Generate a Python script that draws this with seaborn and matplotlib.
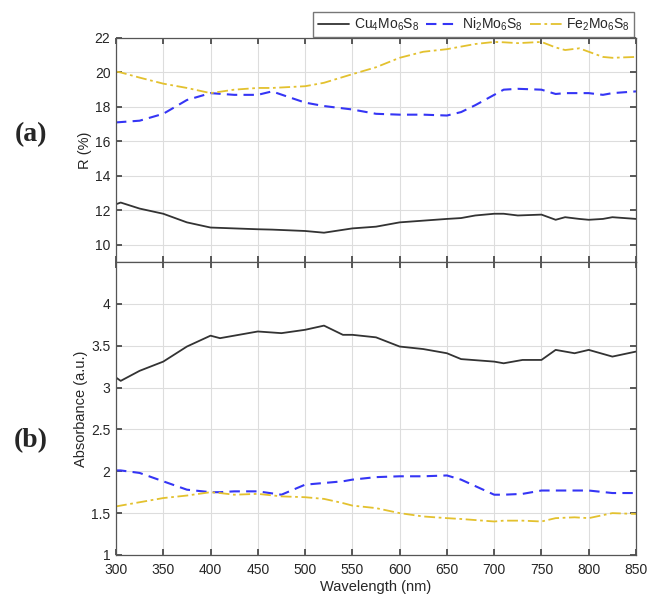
import numpy as np
import pandas as pd
import matplotlib
matplotlib.use("Agg")
import matplotlib.pyplot as plt
import seaborn as sns
from matplotlib.ticker import FuncFormatter

sns.set_theme(style="white")
plt.rcParams["font.family"] = ["Liberation Sans", "DejaVu Sans"]
plt.rcParams["mathtext.default"] = "regular"

# ── Data ──────────────────────────────────────────────────────────────────────
wl_r = [300, 305, 325, 350, 375, 400, 425, 450, 465, 500, 520, 550, 575, 600,
        625, 650, 665, 680, 700, 710, 725, 750, 765, 775, 790, 800, 815, 825, 850]

cu_r = [12.35, 12.45, 12.1, 11.8, 11.3, 11.0, 10.95, 10.9, 10.88, 10.8, 10.7, 10.95, 11.05, 11.3,
        11.4, 11.5, 11.55, 11.7, 11.8, 11.8, 11.7, 11.75, 11.45, 11.6, 11.5, 11.45, 11.5, 11.6, 11.5]
ni_r = [17.1, 17.12, 17.2, 17.6, 18.4, 18.8, 18.7, 18.7, 18.9, 18.25, 18.05, 17.85, 17.6, 17.55,
        17.55, 17.5, 17.7, 18.1, 18.7, 19.0, 19.05, 19.0, 18.75, 18.8, 18.8, 18.8, 18.7, 18.8, 18.9]
fe_r = [20.05, 20.0, 19.7, 19.35, 19.1, 18.8, 19.0, 19.1, 19.1, 19.2, 19.4, 19.9, 20.3, 20.85,
        21.2, 21.35, 21.5, 21.65, 21.77, 21.75, 21.7, 21.77, 21.45, 21.3, 21.4, 21.2, 20.9, 20.85, 20.9]

wl_a = [300, 305, 325, 350, 375, 400, 410, 425, 450, 475, 500, 520, 540, 550, 575, 600,
        625, 650, 665, 700, 710, 730, 750, 765, 785, 800, 825, 850]

cu_a = [3.12, 3.08, 3.2, 3.31, 3.49, 3.62, 3.59, 3.62, 3.67, 3.65, 3.69, 3.74, 3.63, 3.63, 3.6, 3.49,
        3.46, 3.41, 3.34, 3.31, 3.29, 3.33, 3.33, 3.45, 3.41, 3.45, 3.37, 3.43]
ni_a = [2.01, 2.01, 1.98, 1.88, 1.78, 1.75, 1.75, 1.76, 1.76, 1.72, 1.84, 1.86, 1.88, 1.9, 1.93, 1.94,
        1.94, 1.95, 1.9, 1.72, 1.72, 1.73, 1.77, 1.77, 1.77, 1.77, 1.74, 1.74]
fe_a = [1.58, 1.59, 1.63, 1.68, 1.71, 1.75, 1.74, 1.72, 1.73, 1.70, 1.69, 1.67, 1.62, 1.59, 1.56, 1.50,
        1.46, 1.44, 1.43, 1.40, 1.41, 1.41, 1.40, 1.44, 1.45, 1.44, 1.50, 1.49]

labels = [r"Cu$_4$Mo$_6$S$_8$", r"Ni$_2$Mo$_6$S$_8$", r"Fe$_2$Mo$_6$S$_8$"]
colors = ["#333333", "#3535f5", "#e3c12e"]
styles = ["-", (0, (5, 3)), (0, (6, 2, 1.5, 2))]
widths = [1.3, 1.5, 1.3]

# ── Figure ────────────────────────────────────────────────────────────────────
fig = plt.figure(figsize=(6.49, 5.99), dpi=100)
ax1 = fig.add_axes([0.1787, 0.5626, 0.8013, 0.374])
ax2 = fig.add_axes([0.1787, 0.0735, 0.8013, 0.4891])

for ys, c, ls, lw, lab in zip([cu_r, ni_r, fe_r], colors, styles, widths, labels):
    sns.lineplot(x=wl_r, y=ys, ax=ax1, color=c, linestyle=ls, linewidth=lw, label=lab)
for ys, c, ls, lw in zip([cu_a, ni_a, fe_a], colors, styles, widths):
    sns.lineplot(x=wl_a, y=ys, ax=ax2, color=c, linestyle=ls, linewidth=lw)

handles, labs = ax1.get_legend_handles_labels()
ax1.get_legend().remove()

fmt = FuncFormatter(lambda v, p: f"{v:g}")
for ax in (ax1, ax2):
    ax.set_xlim(300, 850)
    ax.set_xticks(range(300, 851, 50))
    ax.grid(True, color="#dddddd", linewidth=0.8)
    ax.tick_params(direction="in", length=4, color="#444444", labelsize=10,
                   labelcolor="#262626", top=True, right=True, bottom=True, left=True)
    ax.tick_params(axis="x", pad=6)
    ax.tick_params(axis="y", pad=4)
    for s in ax.spines.values():
        s.set_color("#555555")
        s.set_linewidth(0.9)
    ax.yaxis.set_major_formatter(fmt)

ax1.set_ylim(9, 22)
ax1.set_yticks(range(10, 23, 2))
ax1.tick_params(labelbottom=False)
ax1.set_ylabel("R (%)", fontsize=10.5, labelpad=2, color="#262626")

ax2.set_ylim(1, 4.5)
ax2.set_yticks([1, 1.5, 2, 2.5, 3, 3.5, 4])
ax2.set_ylabel("Absorbance (a.u.)", fontsize=10.5, labelpad=2, color="#262626")
ax2.set_xlabel("Wavelength (nm)", fontsize=10.5, labelpad=2, color="#262626")

fig.legend(handles, labs, loc="upper right", bbox_to_anchor=(0.987, 0.992), ncol=3,
           fontsize=10, frameon=True, fancybox=False, edgecolor="#555555",
           handlelength=2.3, columnspacing=0.5, handletextpad=0.3, borderpad=0.3)

fig.text(0.048, 0.775, "(a)", fontsize=20, fontweight="bold", family="Liberation Serif",
         ha="center", va="center")
fig.text(0.048, 0.265, "(b)", fontsize=20, fontweight="bold", family="Liberation Serif",
         ha="center", va="center")

fig.savefig("out.png", dpi=100)
